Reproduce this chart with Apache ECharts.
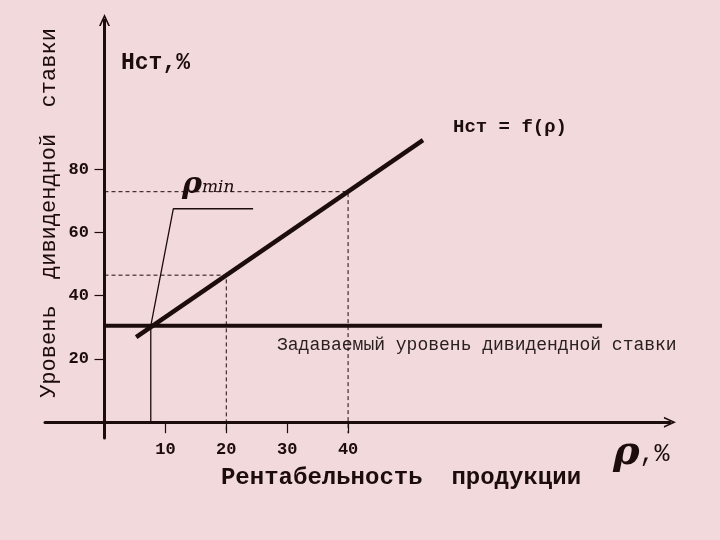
<!DOCTYPE html>
<html>
<head>
<meta charset="utf-8">
<script src="https://cdn.jsdelivr.net/npm/echarts@6/dist/echarts.min.js"></script>
<style>
html,body{margin:0;padding:0;background:#f2d9dc;}
#c{width:720px;height:540px;}
</style>
</head>
<body>
<div id="c"></div>
<script>
// ---- data ----
const xTicks = [10, 20, 30, 40];
const yTicks = [20, 40, 60, 80];
const fLine = [[5.2, 26.9], [52.3, 89.2]];           // Нст = f(ρ)
const targetLine = [[0, 30.5], [81.7, 30.5]];         // Задаваемый уровень
const rhoMinDrop = [[7.6, 30.5], [7.6, 0]];           // ρmin vertical
const rhoMinPointer = [[7.6, 30.5], [11.3, 67.5], [24.4, 67.5]];
const dash20 = [[0, 46.5], [20, 46.5], [20, -3.5]];
const dash40 = [[0, 72.9], [40, 72.9], [40, -3.5]];

const INK = '#1c0c0c';
const MONO = '"Liberation Mono", "DejaVu Sans Mono", monospace';
const arrowPath = 'path://M5,0 L10,11 L8.4,11 L5,3.4 L1.6,11 L0,11 Z';

const chart = echarts.init(document.getElementById('c'));
chart.setOption({
  backgroundColor: '#f2d9dc',
  animation: false,
  grid: {left: 45, right: 50, top: 20, bottom: 102, containLabel: false, outerBoundsMode: 'none'},
  xAxis: {
    type: 'value', min: -9.77, max: 92.86,
    splitLine: {show: false},
    axisLine: {show: true, onZero: true, lineStyle: {color: INK, width: 3}, symbol: ['none', arrowPath], symbolSize: [11, 13]},
    axisTick: {show: true, length: 11, lineStyle: {color: INK, width: 1.2}, customValues: xTicks},
    axisLabel: {show: true, customValues: xTicks, margin: 3, color: INK, fontFamily: MONO, fontSize: 17, fontWeight: 'bold'}
  },
  yAxis: {
    type: 'value', min: -5, max: 127.2,
    splitLine: {show: false},
    axisLine: {show: true, onZero: true, lineStyle: {color: INK, width: 3}, symbol: ['none', arrowPath], symbolSize: [11, 13]},
    axisTick: {show: true, length: 10, lineStyle: {color: INK, width: 1.2}, customValues: yTicks},
    axisLabel: {show: true, customValues: yTicks, margin: -44, color: INK, fontFamily: MONO, fontSize: 17, fontWeight: 'bold'}
  },
  series: [
    {type: 'line', data: dash20, symbol: 'none', silent: true, lineStyle: {color: INK, width: 1, type: [4, 3]}},
    {type: 'line', data: dash40, symbol: 'none', silent: true, lineStyle: {color: INK, width: 1, type: [4, 3]}},
    {type: 'line', data: rhoMinDrop, symbol: 'none', silent: true, lineStyle: {color: INK, width: 1.3}},
    {type: 'line', data: rhoMinPointer, symbol: 'none', silent: true, lineStyle: {color: INK, width: 1.3}},
    {type: 'line', data: targetLine, symbol: 'none', silent: true, lineStyle: {color: INK, width: 4}},
    {type: 'line', data: fLine, symbol: 'none', silent: true, lineStyle: {color: INK, width: 4.5}}
  ],
  graphic: [
    {type: 'text', left: 121, top: 52, style: {text: 'Нст,%', font: 'bold 23px ' + MONO, fill: INK}},
    {type: 'text', left: 453, top: 118, style: {text: 'Нст = f(ρ)', font: 'bold 19px ' + MONO, fill: INK}},
    {type: 'text', left: 277, top: 336, style: {text: 'Задаваемый уровень дивидендной ставки', font: '18px ' + MONO, fill: '#2a2020'}},
    {type: 'text', left: 182, top: 170, style: {
      text: '{a|ρ}{b|min}',
      rich: {
        a: {font: 'italic bold 30px "DejaVu Serif", serif', fill: INK},
        b: {font: 'italic 17px "DejaVu Serif", serif', fill: INK, padding: [6, 0, 0, 0]}
      }
    }},
    {type: 'text', left: 613, top: 434, style: {
      text: '{a|ρ}{b|,%}',
      rich: {
        a: {font: 'italic bold 40px "DejaVu Serif", serif', fill: INK},
        b: {font: '25px ' + MONO, fill: INK}
      }
    }},
    {type: 'text', x: 49, y: 213, rotation: Math.PI / 2, style: {
      text: 'Уровень  дивидендной  ставки', font: '22px ' + MONO, fill: INK, align: 'center', verticalAlign: 'middle'
    }},
    {type: 'text', x: 401, y: 478, style: {
      text: 'Рентабельность  продукции', font: 'bold 24px ' + MONO, fill: INK, align: 'center', verticalAlign: 'middle'
    }}
  ]
});
</script>
</body>
</html>
